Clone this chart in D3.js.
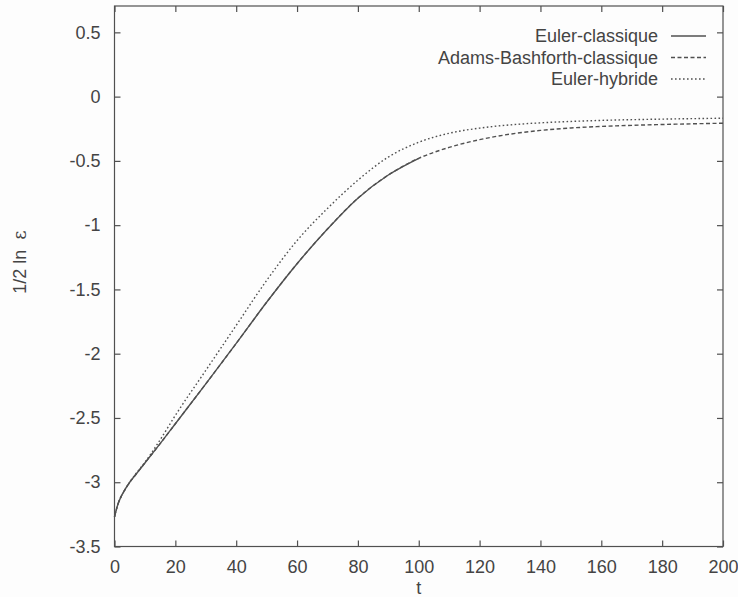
<!DOCTYPE html>
<html>
<head>
<meta charset="utf-8">
<script src="https://cdn.jsdelivr.net/npm/d3@7"></script>
<style>
  html, body { margin: 0; padding: 0; background: #fdfdfd; }
  svg { display: block; }
  text { font-family: "Liberation Sans", Arial, Helvetica, sans-serif; fill: #444; }
</style>
</head>
<body>
<svg id="chart" width="738" height="597"></svg>
<script>
// Time samples and the growth-rate curves (1/2 ln ε) for each scheme
const tEuler = [0, 1, 2, 3, 5, 7, 10, 15, 20, 30, 40, 50, 60, 70, 80, 90, 100];
const eulerClassique = [-3.27, -3.18, -3.12, -3.075, -3.00, -2.94, -2.85, -2.70, -2.545, -2.235, -1.92, -1.60, -1.30, -1.03, -0.79, -0.61, -0.48];

const tAdams = [0, 1, 2, 3, 5, 7, 10, 15, 20, 30, 40, 50, 60, 70, 80, 90, 100, 110, 120, 130, 140, 150, 160, 180, 200];
const adamsBashforth = [-3.27, -3.18, -3.12, -3.075, -3.00, -2.94, -2.85, -2.70, -2.545, -2.235, -1.92, -1.60, -1.30, -1.03, -0.79, -0.61, -0.48, -0.395, -0.335, -0.292, -0.263, -0.244, -0.232, -0.217, -0.207];

const tHybride = [0, 1, 2, 3, 5, 7, 10, 15, 20, 30, 40, 50, 60, 70, 80, 90, 100, 110, 120, 130, 140, 150, 160, 180, 200];
const eulerHybride = [-3.27, -3.18, -3.12, -3.075, -3.00, -2.935, -2.845, -2.67, -2.48, -2.13, -1.78, -1.43, -1.12, -0.87, -0.65, -0.47, -0.355, -0.285, -0.245, -0.22, -0.204, -0.193, -0.185, -0.175, -0.168];

const xTicks = [0, 20, 40, 60, 80, 100, 120, 140, 160, 180, 200];
const yTicks = [-3.5, -3, -2.5, -2, -1.5, -1, -0.5, 0, 0.5];
const legendLabels = ["Euler-classique", "Adams-Bashforth-classique", "Euler-hybride"];

const svg = d3.select("#chart");
const plotLeft = 114.5, plotRight = 723, plotTop = 6, plotBottom = 546.5;

const x = d3.scaleLinear().domain([0, 200]).range([plotLeft, plotRight]);
const y = d3.scaleLinear().domain([-3.5, 0.705]).range([plotBottom, plotTop]);

const ink = "#505050";
const tickLen = 6;

// Frame
svg.append("rect")
  .attr("x", plotLeft).attr("y", plotTop)
  .attr("width", plotRight - plotLeft).attr("height", plotBottom - plotTop)
  .attr("fill", "none").attr("stroke", ink).attr("stroke-width", 1.2);

// Bottom axis (ticks inward) with labels
const xAxis = d3.axisBottom(x).tickValues(xTicks).tickSize(-tickLen).tickPadding(14)
  .tickFormat(d => String(d));
const gx = svg.append("g").attr("transform", `translate(0,${plotBottom})`).call(xAxis);
// Top mirror ticks
const gxt = svg.append("g").attr("transform", `translate(0,${plotTop})`)
  .call(d3.axisTop(x).tickValues(xTicks).tickSize(-tickLen).tickFormat(""));

// Left axis with labels (plain hyphen-minus, as in the plot)
const yAxis = d3.axisLeft(y).tickValues(yTicks).tickSize(-tickLen).tickPadding(14)
  .tickFormat(d => String(d));
const gy = svg.append("g").attr("transform", `translate(${plotLeft},0)`).call(yAxis);
// Right mirror ticks
const gyr = svg.append("g").attr("transform", `translate(${plotRight},0)`)
  .call(d3.axisRight(y).tickValues(yTicks).tickSize(-tickLen).tickFormat(""));

[gx, gxt, gy, gyr].forEach(g => {
  g.select(".domain").remove();
  g.selectAll(".tick line").attr("stroke", ink).attr("stroke-width", 1.2);
  g.selectAll(".tick text")
    .attr("font-family", "'Liberation Sans', Arial, sans-serif")
    .attr("font-size", 18).attr("fill", "#444");
});
gx.selectAll(".tick text").attr("dy", "0.71em");

// Axis titles
svg.append("text").attr("x", x(100)).attr("y", 594)
  .attr("text-anchor", "middle").attr("font-size", 18).text("t");

const yTitle = svg.append("text")
  .attr("transform", "translate(26,262) rotate(-90)")
  .attr("text-anchor", "middle").attr("font-size", 18)
  .attr("xml:space", "preserve");
yTitle.append("tspan").text("1/2 ln  ");
yTitle.append("tspan").attr("font-family", "'DejaVu Serif', serif").text("ε");

// Curves
const line = (ts) => d3.line()
  .x((d, i) => x(ts[i]))
  .y(d => y(d))
  .curve(d3.curveMonotoneX);

const series = [
  { t: tEuler, v: eulerClassique, dash: null },
  { t: tAdams, v: adamsBashforth, dash: "4,2.5" },
  { t: tHybride, v: eulerHybride, dash: "1.6,2.4" }
];

series.forEach(s => {
  svg.append("path")
    .attr("d", line(s.t)(s.v))
    .attr("fill", "none")
    .attr("stroke", ink)
    .attr("stroke-width", 1.4)
    .attr("stroke-dasharray", s.dash);
});

// Legend
const legendY = [36, 57.5, 79];
legendLabels.forEach((label, i) => {
  svg.append("text")
    .attr("x", 658).attr("y", legendY[i])
    .attr("dy", "0.35em")
    .attr("text-anchor", "end").attr("font-size", 18)
    .text(label);
  svg.append("line")
    .attr("x1", 671).attr("x2", 706)
    .attr("y1", legendY[i]).attr("y2", legendY[i])
    .attr("stroke", ink).attr("stroke-width", 1.4)
    .attr("stroke-dasharray", series[i].dash);
});
</script>
</body>
</html>
